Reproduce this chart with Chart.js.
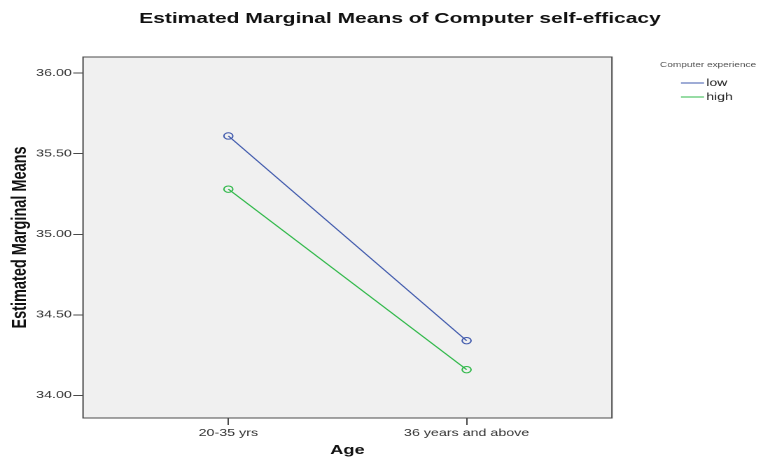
<!DOCTYPE html>
<html>
<head>
<meta charset="utf-8">
<script src="https://cdn.jsdelivr.net/npm/chart.js@4.4.1/dist/chart.umd.min.js"></script>
<style>
  html, body { margin: 0; padding: 0; background: #fff; overflow: hidden; }
  /* the source picture is stretched sideways, so draw it narrow and widen it */
  #wrap { width: 543px; height: 459px; transform: scaleX(1.4); transform-origin: 0 0; }
</style>
</head>
<body>
<div id="wrap"><canvas id="myChart" width="543" height="459"></canvas></div>
<script>
const ageGroups = ['20-35 yrs', '36 years and above'];
const experience = ['low', 'high'];
const lowMeans = [35.61, 34.34];
const highMeans = [35.28, 34.16];
const yTicks = [34.00, 34.50, 35.00, 35.50, 36.00];

const lineColors = ['rgb(62, 88, 172)', 'rgb(46, 184, 72)'];
const axisColor = '#4a4a4a';

Chart.defaults.font.family = '"Liberation Sans", Arial, sans-serif';

function points(vals) {
  return vals.map((v, i) => ({ x: i + 1, y: v }));
}

// plot background, frame, title and the small legend on the right
const decor = {
  id: 'decor',
  beforeDraw(chart) {
    const { ctx, chartArea: a } = chart;
    ctx.save();
    ctx.fillStyle = '#f0f0f0';
    ctx.fillRect(a.left, a.top, a.right - a.left, a.bottom - a.top);
    ctx.restore();
  },
  beforeDatasetsDraw(chart) {
    const { ctx, chartArea: a } = chart;
    ctx.save();
    ctx.strokeStyle = axisColor;
    ctx.lineWidth = 1;
    ctx.strokeRect(a.left, a.top, a.right - a.left, a.bottom - a.top);
    ctx.restore();
  },
  afterDraw(chart) {
    const ctx = chart.ctx;
    ctx.save();
    ctx.textBaseline = 'middle';
    ctx.fillStyle = '#111';
    ctx.textAlign = 'center';
    ctx.font = 'bold 15px "Liberation Sans", Arial, sans-serif';
    ctx.fillText('Estimated Marginal Means of Computer self-efficacy', 285.7, 19);

    ctx.textAlign = 'left';
    ctx.fillStyle = '#555';
    ctx.font = '7.2px "Liberation Sans", Arial, sans-serif';
    ctx.fillText('Computer experience', 471.4, 65);

    ctx.font = '10px "Liberation Sans", Arial, sans-serif';
    chart.data.datasets.forEach((ds, i) => {
      const y = 83 + i * 14;
      ctx.strokeStyle = ds.borderColor;
      ctx.lineWidth = 1;
      ctx.beginPath();
      ctx.moveTo(486.4, y);
      ctx.lineTo(502.9, y);
      ctx.stroke();
      ctx.fillStyle = '#222';
      ctx.fillText(ds.label, 504.5, y);
    });
    ctx.restore();
  }
};

new Chart(document.getElementById('myChart'), {
  type: 'line',
  data: {
    datasets: [
      { label: experience[0], data: points(lowMeans), borderColor: lineColors[0] },
      { label: experience[1], data: points(highMeans), borderColor: lineColors[1] }
    ].map(ds => Object.assign(ds, {
      borderWidth: 1,
      tension: 0,
      fill: false,
      pointRadius: 3.2,
      pointBorderWidth: 1,
      pointBorderColor: ds.borderColor,
      pointBackgroundColor: 'rgba(0,0,0,0)'
    }))
  },
  options: {
    responsive: false,
    animation: false,
    devicePixelRatio: 2,
    layout: { padding: { top: 57, right: 105.9, bottom: 0, left: 0 } },
    plugins: {
      legend: { display: false },
      title: { display: false },
      tooltip: { enabled: false }
    },
    scales: {
      x: {
        type: 'linear',
        min: 0.39,
        max: 2.61,
        afterBuildTicks: s => { s.ticks = ageGroups.map((_, i) => ({ value: i + 1 })); },
        afterFit: s => { s.height = 41; },
        ticks: {
          callback: v => ageGroups[v - 1],
          autoSkip: false,
          maxRotation: 0,
          padding: 2,
          color: '#333',
          font: { size: 10.2 }
        },
        grid: { drawOnChartArea: false, tickLength: 7, color: axisColor },
        border: { display: false },
        title: {
          display: true,
          text: 'Age',
          color: '#111',
          font: { size: 13, weight: 'bold' },
          padding: { top: 0, bottom: 1 }
        }
      },
      y: {
        min: 33.86,
        max: 36.10,
        afterBuildTicks: s => { s.ticks = yTicks.map(v => ({ value: v })); },
        afterFit: s => { s.width = 59.3; },
        ticks: {
          callback: v => v.toFixed(2),
          padding: 1,
          color: '#333',
          font: { size: 10.2 }
        },
        grid: { drawOnChartArea: false, tickLength: 7, color: axisColor },
        border: { display: false },
        title: {
          display: true,
          text: 'Estimated Marginal Means',
          color: '#111',
          font: { size: 14.5, weight: 'bold' },
          padding: { top: 5.6, bottom: 0 }
        }
      }
    }
  },
  plugins: [decor]
});
</script>
</body>
</html>
